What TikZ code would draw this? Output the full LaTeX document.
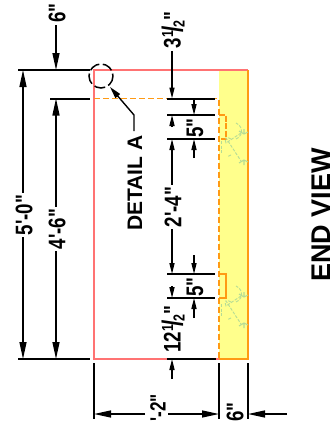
\documentclass[tikz,border=0pt]{standalone}
\usepackage{fontspec}
\setmainfont{Liberation Sans}
\newfontfamily\dimfont[FakeStretch=0.78]{Liberation Sans}
\usepackage{xcolor}
\usepackage{tikz}
\usetikzlibrary{arrows.meta}
\usetikzlibrary{calc}
\definecolor{wallred}{HTML}{FF7373}
\definecolor{pourorange}{HTML}{FF9A14}
\definecolor{padyellow}{HTML}{FFFF8C}
\definecolor{anchorgreen}{HTML}{B4DC96}
\newcommand{\halfmark}{\kern.3pt\raisebox{7.5pt}{\fontsize{16}{16}\selectfont 1}\kern-1.5pt\raisebox{-2pt}{\fontsize{29}{29}\selectfont /}\kern-1.5pt\raisebox{-4pt}{\fontsize{16}{16}\selectfont 2}\kern.5pt}
\tikzset{
    dimtext/.style={rotate=90, inner sep=2pt, font=\fontsize{24}{24}\dimfont\bfseries},
    extline/.style={black, line width=2pt},
    bigdim/.style={black, line width=1.4pt, -{Stealth[length=17pt,width=7pt,inset=0pt]}},
    smalldim/.style={black, line width=1.3pt, -{Stealth[length=11pt,width=5pt,inset=0pt]}},
    anchorline/.style={anchorgreen, line width=1.1pt},
    anchordash/.style={anchorgreen, line width=.9pt, dash pattern=on 3pt off 1.5pt}
}
\newcommand{\anchorbolt}[2]{
    \begin{scope}[shift={(#1,#2)}]
        \draw[anchordash] (-11,-6) -- (-11,7);
        \draw[anchordash] (9,-14) -- (-6,-4) arc (150:210:5) -- (9,14);
        \draw[anchordash] (4,-8) arc (70:-70:8.5);
        \draw[anchordash] (-1,-8) arc (100:130:8) (-1,8) arc (-100:-130:8);
        \draw[anchorline] (7,-16) -- (12,-13) -- (16,-15) (12,-13) -- (12,-18);
        \draw[anchorline] (7,16) -- (12,13) -- (16,15) (12,13) -- (12,18);
    \end{scope}
}
\begin{document}
\begin{tikzpicture}[x=1pt,y=-1pt]
            \useasboundingbox (0,0) rectangle (336,423);
            % slab
            \fill[padyellow] (219,70) rectangle (248,359);
            \draw[wallred, line width=1.7pt] (248,70) -- (94,70) -- (94,359) -- (219,359);
            \draw[pourorange, line width=1.5pt] (248,70) -- (248,359) -- (219,359);
            \draw[pourorange, line width=1.3pt, dash pattern=on 6pt off 3pt] (94,98.5) -- (219,98.5) -- (219,359);
            \draw[pourorange, line width=1.3pt, dash pattern=on 6pt off 1.5pt] (219,115) -- (226,115) -- (226,139) -- (219,139);
            \draw[pourorange, line width=1.3pt] (219,274) -- (226,274) -- (226,298) -- (219,298);
            \anchorbolt{232}{147}
            \anchorbolt{232}{310}

            % extension lines
            \draw[extline] (18,70) -- (90,70);
            \draw[extline] (50,98.5) -- (90,98.5);
            \draw[extline] (18,359) -- (90,359);
            \draw[extline] (167,98.5) -- (215,98.5);
            \draw[extline] (167,115) -- (215,115);
            \draw[extline] (167,139) -- (215,139);
            \draw[extline] (167,274) -- (215,274);
            \draw[extline] (167,298) -- (215,298);
            \draw[extline] (167,359) -- (216,359);
            \draw[extline] (94,363) -- (94,419);
            \draw[extline] (219,363) -- (219,419);
            \draw[extline] (248,363) -- (248,419);

            % dimension texts
            \draw (24,215) node[dimtext] (fivezero) {5'-0"};
            \draw (57,229) node[dimtext] (foursix) {4'-6"};
            \draw (57,13) node[dimtext] (topsix) {6"};
            \draw (173,30) node[dimtext] (threehalf) {3\halfmark"};
            \draw (195,128) node[dimtext] (fiveup) {5"};
            \draw (173,207) node[dimtext] (twofour) {2'-4"};
            \draw (195,287) node[dimtext] (fivedown) {5"};
            \draw (173,329) node[dimtext] (twelvehalf) {12\halfmark"};
            \draw (158,408) node[dimtext, font=\fontsize{22}{22}\dimfont\bfseries] (widthtext) {'-2"};
            \draw (235,412) node[dimtext] (padsix) {6"};

            % dimension lines
            \draw[bigdim] (fivezero.east -| 23,0) -- (23,70);
            \draw[bigdim] (fivezero.west -| 23,0) -- (23,359);
            \draw[bigdim] (foursix.east -| 56,0) -- (56,98.5);
            \draw[bigdim] (foursix.west -| 56,0) -- (56,359);
            \draw[bigdim] (56,25) -- (56,70);
            \draw[smalldim] (threehalf.west -| 172,0) -- (172,98.5);
            \draw[smalldim] (172,127) -- (172,115);
            \draw[smalldim] (twofour.east -| 172,0) -- (172,139);
            \draw[smalldim] (twofour.west -| 172,0) -- (172,274);
            \draw[smalldim] (172,286) -- (172,298);
            \draw[smalldim] (172,379) -- (172,359);
            \draw[smalldim] (194,98.5) -- (194,115);
            \draw[smalldim] (194,158) -- (194,139);
            \draw[smalldim] (194,255) -- (194,274);
            \draw[smalldim] (194,318) -- (194,298);
            \draw[bigdim] (145,414) -- (94,414);
            \draw[bigdim] (168,414) -- (219,414);
            \draw[bigdim] (287,414) -- (248,414);

            % detail callout
            \draw[black, line width=1.5pt, dash pattern=on 11pt off 3.5pt] (101,76) circle (12);
            \draw (135,183) node[rotate=90, inner sep=2pt, font=\fontsize{21}{21}\selectfont\bfseries] (detaila) {DETAIL A};
            \coordinate (leadknee) at (134,115);
            \draw[black, line width=1.4pt, -{Stealth[length=12pt,width=6pt,inset=0pt]}] (134,131) -- (leadknee) -- (110,87);

            % view title
            \draw (321.5,215) node[rotate=90, inner sep=0pt, font=\fontsize{27}{27}\selectfont\bfseries] (endview) {END VIEW};
\end{tikzpicture}
\end{document}
